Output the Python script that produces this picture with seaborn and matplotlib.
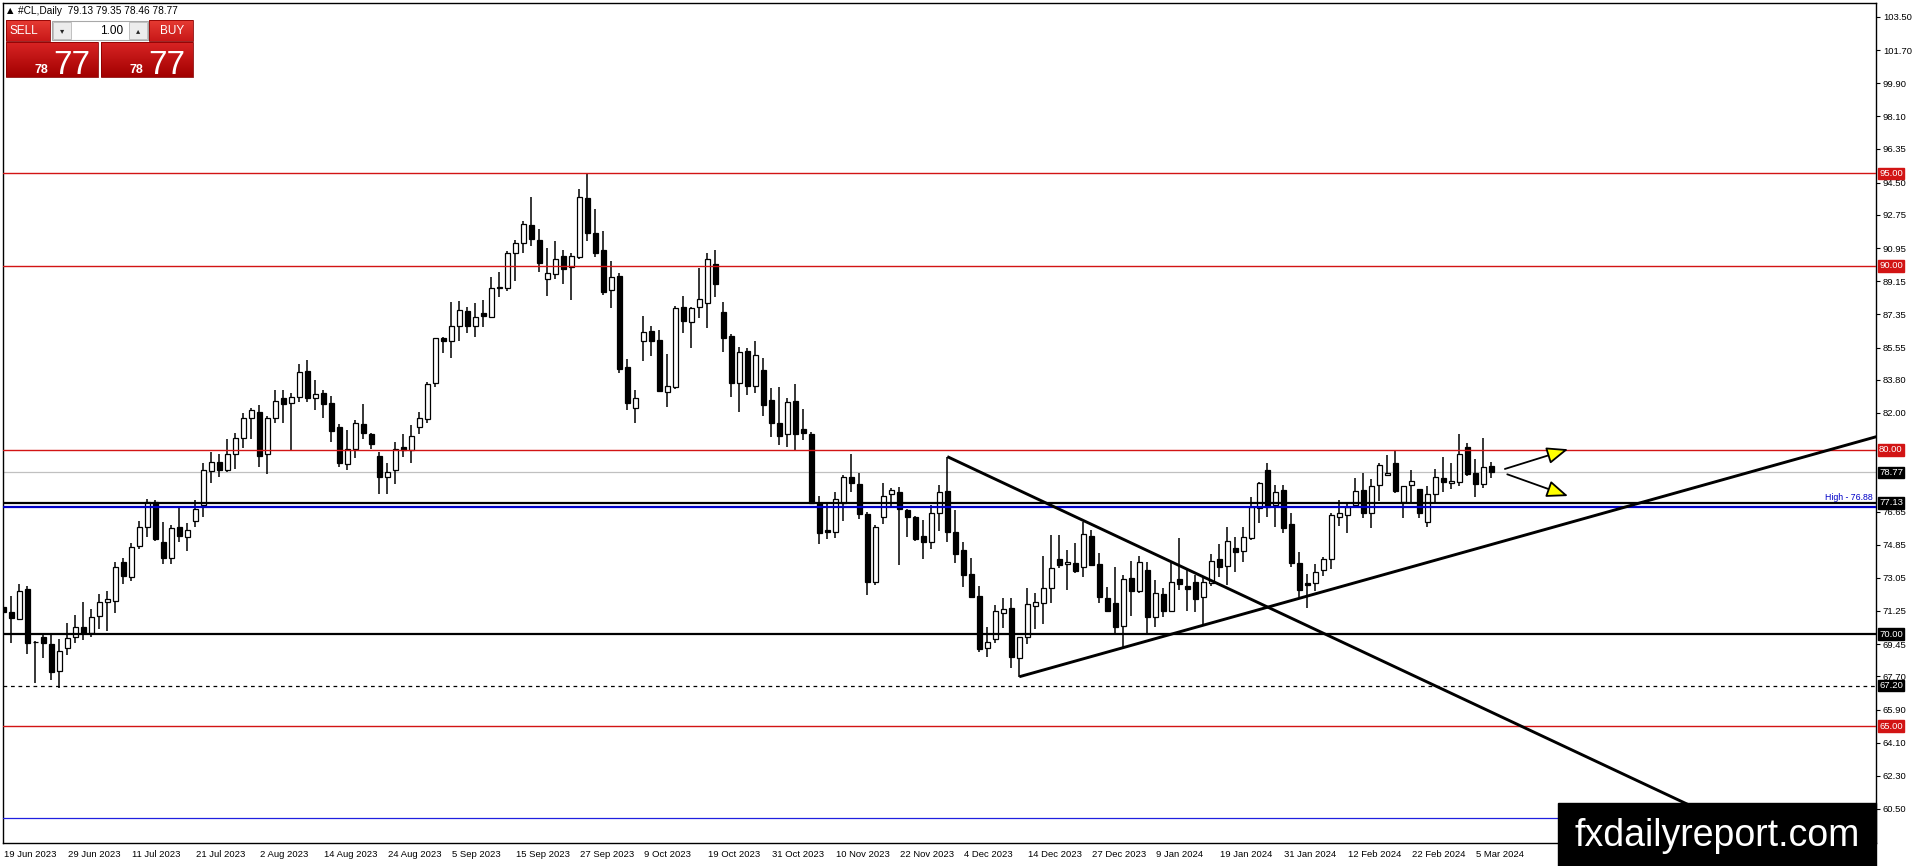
import numpy as np
import pandas as pd
import matplotlib
matplotlib.use("Agg")
import matplotlib.pyplot as plt
import matplotlib.transforms as mtransforms
from matplotlib.patches import Rectangle
from matplotlib.colors import LinearSegmentedColormap
import seaborn as sns

# #CL daily candles, 19 Jun 2023 .. 7 Mar 2024
opens = [
    71.48, 71.18, 70.81, 72.44, 69.55, 69.82, 69.44, 67.99, 69.22, 69.82,
    70.40, 70.07, 71.00, 71.76, 71.81, 73.89, 73.11, 74.80, 75.83, 77.15,
    74.98, 74.11, 75.79, 75.28, 76.15, 77.00, 78.85, 79.32, 78.90, 79.75,
    80.62, 81.71, 82.03, 79.75, 81.71, 82.79, 82.52, 82.85, 84.28, 82.79,
    83.10, 82.56, 81.22, 79.23, 80.03, 81.38, 80.84, 79.66, 78.54, 78.90,
    80.13, 79.99, 81.26, 81.65, 83.61, 86.05, 85.92, 86.72, 87.54, 86.74,
    87.44, 87.23, 88.78, 88.77, 90.67, 91.21, 92.20, 91.39, 89.25, 89.53,
    90.54, 89.91, 90.45, 93.65, 91.75, 90.85, 88.68, 89.44, 84.48, 82.25,
    85.92, 86.45, 85.96, 83.16, 83.43, 87.77, 86.96, 87.77, 87.99, 90.07,
    87.46, 86.18, 83.61, 85.36, 83.48, 84.33, 82.70, 81.44, 80.86, 82.65,
    81.11, 80.86, 77.09, 75.65, 75.56, 77.13, 78.51, 78.14, 76.51, 72.84,
    76.37, 77.60, 77.69, 76.73, 76.33, 75.32, 75.01, 76.55, 77.76, 75.52,
    74.56, 73.24, 72.06, 69.22, 69.71, 71.12, 71.43, 68.68, 69.86, 71.54,
    71.66, 72.48, 74.05, 73.78, 73.84, 73.62, 75.32, 73.80, 71.94, 71.66,
    70.45, 73.02, 72.35, 73.47, 70.90, 72.15, 71.27, 72.99, 72.61, 72.80,
    71.99, 72.75, 74.05, 73.69, 74.65, 74.51, 75.19, 76.82, 78.90, 77.00,
    77.82, 75.95, 73.87, 72.79, 72.75, 73.47, 74.05, 76.37, 76.46, 77.00,
    77.82, 76.55, 78.09, 78.63, 79.30, 77.18, 78.09, 77.85, 76.06, 77.60,
    78.45, 78.18, 78.27, 80.13, 78.76, 78.13, 79.13]
highs = [
    72.03, 72.08, 72.71, 72.61, 69.60, 70.07, 70.07, 69.71, 70.58, 71.03,
    71.72, 71.34, 72.17, 72.35, 73.89, 74.11, 74.92, 76.13, 77.31, 77.27,
    76.10, 75.92, 76.91, 76.00, 77.27, 79.30, 79.86, 79.75, 80.59, 80.89,
    82.02, 82.25, 82.43, 81.84, 83.25, 83.25, 83.10, 84.64, 84.88, 83.79,
    83.25, 82.92, 81.40, 81.07, 81.62, 82.49, 80.93, 79.90, 79.27, 80.44,
    80.84, 81.35, 82.03, 83.70, 86.09, 86.14, 88.04, 88.08, 87.77, 87.95,
    88.13, 89.36, 89.63, 90.79, 91.39, 92.42, 93.74, 91.99, 90.94, 91.33,
    90.85, 90.70, 94.14, 95.01, 93.05, 91.88, 90.25, 89.58, 84.91, 83.25,
    87.26, 86.72, 86.50, 85.20, 87.81, 88.35, 87.77, 89.85, 90.67, 90.85,
    88.01, 86.27, 85.56, 85.54, 85.91, 84.97, 83.34, 83.39, 82.79, 83.57,
    82.20, 80.95, 77.49, 77.09, 77.73, 78.63, 79.77, 78.72, 76.64, 75.92,
    78.22, 77.91, 77.96, 76.77, 76.41, 76.19, 77.00, 78.09, 79.63, 76.73,
    75.01, 74.11, 72.61, 70.40, 71.57, 71.94, 71.94, 69.86, 72.48, 72.24,
    74.23, 75.37, 75.37, 74.56, 74.96, 76.10, 75.65, 74.38, 72.57, 73.62,
    73.20, 73.98, 74.23, 73.93, 72.93, 72.48, 73.84, 75.19, 73.47, 73.20,
    73.11, 74.33, 74.89, 75.79, 75.25, 75.79, 77.46, 78.27, 79.27, 78.09,
    78.09, 76.55, 74.47, 73.26, 73.80, 74.20, 76.55, 77.27, 77.09, 78.45,
    78.76, 78.40, 79.30, 79.72, 79.95, 78.03, 78.90, 77.85, 78.03, 78.94,
    79.63, 79.27, 80.86, 80.39, 79.48, 80.62, 79.35]
lows = [
    70.58, 69.49, 70.76, 68.90, 67.32, 68.68, 67.50, 67.05, 68.86, 69.49,
    69.67, 69.86, 70.27, 70.18, 71.16, 72.70, 72.90, 74.61, 75.29, 75.05,
    73.80, 73.80, 75.01, 74.52, 75.83, 76.36, 78.22, 78.51, 78.81, 78.94,
    80.08, 80.57, 79.05, 78.67, 81.47, 81.47, 79.93, 82.58, 82.58, 82.16,
    81.71, 80.41, 79.05, 78.90, 79.54, 80.59, 80.04, 77.58, 77.58, 78.13,
    79.59, 79.30, 80.84, 81.44, 83.43, 85.24, 84.99, 85.91, 86.36, 86.14,
    86.68, 87.17, 88.28, 88.62, 89.18, 90.70, 91.06, 89.67, 88.37, 89.27,
    89.00, 88.13, 90.36, 91.35, 90.45, 88.40, 87.72, 84.15, 82.16, 81.47,
    84.84, 85.11, 83.12, 82.31, 83.28, 86.32, 85.54, 87.17, 86.59, 88.31,
    85.33, 82.88, 82.07, 82.97, 83.07, 81.81, 80.71, 80.26, 80.17, 79.93,
    80.53, 77.09, 74.89, 75.16, 75.19, 76.13, 77.73, 76.24, 72.12, 72.66,
    75.97, 76.95, 73.75, 75.25, 75.05, 74.05, 74.60, 75.61, 75.01, 73.87,
    72.57, 71.97, 69.04, 68.77, 69.49, 70.31, 68.17, 67.68, 69.46, 70.25,
    70.54, 71.70, 73.57, 72.39, 73.33, 73.08, 73.69, 71.66, 71.21, 70.04,
    69.31, 70.98, 72.21, 70.04, 70.40, 70.94, 71.27, 72.39, 71.27, 71.21,
    70.49, 72.62, 73.11, 72.66, 73.38, 73.93, 75.10, 76.04, 76.37, 75.83,
    75.50, 73.66, 71.99, 71.39, 72.35, 73.17, 73.51, 75.86, 75.50, 76.82,
    76.32, 75.74, 77.22, 78.63, 77.64, 76.28, 77.18, 76.32, 75.79, 77.18,
    77.73, 77.87, 78.03, 78.58, 77.46, 77.94, 78.46]
closes = [
    71.21, 70.89, 72.33, 69.49, 69.58, 69.49, 67.96, 69.10, 69.76, 70.40,
    70.04, 70.94, 71.76, 71.88, 73.62, 73.17, 74.74, 75.79, 77.18, 75.16,
    74.11, 75.74, 75.34, 75.64, 76.79, 78.90, 79.32, 78.90, 79.75, 80.62,
    81.71, 82.16, 79.68, 81.71, 82.65, 82.47, 82.85, 84.21, 82.83, 83.01,
    82.47, 81.04, 79.27, 80.03, 81.44, 80.89, 80.30, 78.51, 78.81, 80.03,
    79.99, 80.75, 81.71, 83.57, 86.05, 85.92, 86.72, 87.59, 86.74, 87.19,
    87.28, 88.77, 88.80, 90.67, 91.21, 92.24, 91.43, 90.12, 89.58, 90.34,
    89.82, 90.54, 93.71, 91.79, 90.70, 88.58, 89.40, 84.39, 82.52, 82.79,
    86.38, 85.92, 83.21, 83.48, 87.68, 87.01, 87.68, 88.17, 90.36, 89.00,
    86.05, 83.64, 85.29, 83.48, 85.15, 82.43, 81.44, 80.77, 82.58, 80.86,
    80.89, 77.13, 75.50, 75.52, 77.31, 78.51, 78.18, 76.51, 72.84, 75.79,
    77.49, 77.82, 76.77, 76.37, 75.14, 74.98, 76.55, 77.69, 75.56, 74.33,
    73.20, 72.03, 69.19, 69.58, 71.25, 71.34, 68.73, 69.82, 71.61, 71.72,
    72.48, 73.57, 73.75, 73.93, 73.42, 75.43, 73.75, 71.99, 71.27, 70.40,
    72.99, 72.35, 73.89, 70.90, 72.21, 71.27, 72.80, 72.71, 72.46, 71.88,
    72.80, 73.98, 73.62, 75.07, 74.47, 75.28, 76.88, 78.18, 76.91, 77.73,
    75.77, 73.87, 72.39, 72.66, 73.38, 74.05, 76.46, 76.59, 76.91, 77.76,
    76.55, 78.03, 79.17, 78.72, 77.76, 78.03, 78.32, 76.55, 77.60, 78.50,
    78.27, 78.31, 79.77, 78.69, 78.13, 79.08, 78.77]

date_labels = ["19 Jun 2023", "29 Jun 2023", "11 Jul 2023", "21 Jul 2023",
               "2 Aug 2023", "14 Aug 2023", "24 Aug 2023", "5 Sep 2023",
               "15 Sep 2023", "27 Sep 2023", "9 Oct 2023", "19 Oct 2023",
               "31 Oct 2023", "10 Nov 2023", "22 Nov 2023", "4 Dec 2023",
               "14 Dec 2023", "27 Dec 2023", "9 Jan 2024", "19 Jan 2024",
               "31 Jan 2024", "12 Feb 2024", "22 Feb 2024", "5 Mar 2024"]
date_step = 8

# scale labels (80.20 and 78.40 sit under the level boxes, so they are left out)
price_ticks = [103.50, 101.70, 99.90, 98.10, 96.35, 94.50, 92.75, 90.95,
               89.15, 87.35, 85.55, 83.80, 82.00,
               76.65, 74.85, 73.05, 71.25, 69.45, 67.70, 65.90, 64.10, 62.30, 60.50]

red_levels = [95.00, 90.00, 80.00, 65.00]
black_levels = [77.13, 70.00]
dotted_level = 67.20
blue_high = 76.88
blue_low = 60.00
bid_price = 78.77

# trend lines (two anchor points each, extended to the right)
down_x = [118, 130.6]
down_y = [79.63, 77.06]
up_x = [127, 174.6]
up_y = [67.68, 73.47]

# the two yellow arrows after the last bar
arrow_x0 = [187.7, 188.0]
arrow_y0 = [78.96, 78.67]
arrow_x1 = [195.6, 195.6]
arrow_y1 = [80.03, 77.49]

df = pd.DataFrame({"open": opens, "high": highs, "low": lows, "close": closes})
df["x"] = np.arange(len(df))
df["bull"] = df["close"] >= df["open"]
df["bottom"] = df[["open", "close"]].min(axis=1)
df["body"] = (df["close"] - df["open"]).abs().clip(lower=0.04)

sns.set_theme(style="white")
plt.rcParams["font.family"] = ["Liberation Sans", "DejaVu Sans"]

W, H = 1916, 866
fig = plt.figure(figsize=(W / 100, H / 100), dpi=100)
fig.patch.set_facecolor("white")
ax = fig.add_axes([3 / W, (H - 843) / H, 1873 / W, 840 / H])
ax.set_facecolor("white")

# candles
ax.vlines(df["x"], df["low"], df["high"], color="black", lw=1.1, zorder=2)
ax.bar(df["x"], df["body"], bottom=df["bottom"], width=0.62,
       color=np.where(df["bull"], "white", "black"), edgecolor="black",
       linewidth=0.9, zorder=3)

# horizontal levels
RED = "#d21414"
for lvl in red_levels:
    ax.axhline(lvl, color=RED, lw=1.0, zorder=4)
for lvl in black_levels:
    ax.axhline(lvl, color="black", lw=1.6, zorder=4)
ax.axhline(blue_high, color="#0000c8", lw=1.6, zorder=4)
ax.axhline(blue_low, color="#2020e0", lw=0.9, zorder=4)
ax.axhline(dotted_level, color="black", lw=0.9, ls=(0, (3, 3)), zorder=4)
ax.axhline(bid_price, color="#c0c0c0", lw=0.9, zorder=1)

# trend lines
xmin, xmax = -0.0375, 234.09
for lx, ly in [(down_x, down_y), (up_x, up_y)]:
    slope = (ly[1] - ly[0]) / (lx[1] - lx[0])
    x_end = xmax + 5
    ax.plot([lx[0], x_end], [ly[0], ly[0] + slope * (x_end - lx[0])],
            color="black", lw=2.1, solid_capstyle="butt", zorder=5)

for xs, ys, xe, ye in zip(arrow_x0, arrow_y0, arrow_x1, arrow_y1):
    ax.annotate("", xy=(xe, ye), xytext=(xs, ys),
                arrowprops=dict(arrowstyle="-|>,head_length=1.0,head_width=0.4",
                                fc="#ffff00", ec="black", lw=1.3,
                                mutation_scale=13, shrinkA=0, shrinkB=0),
                zorder=6)

ax.set_xlim(xmin, xmax)
ax.set_ylim(58.654, 104.256)

# axes / ticks like the terminal
for sp in ax.spines.values():
    sp.set_color("black")
    sp.set_linewidth(1.0)
ax.yaxis.tick_right()
ax.set_yticks(price_ticks)
ax.set_yticklabels([f"{v:.2f}" for v in price_ticks])
ax.tick_params(axis="y", length=3, width=0.8, pad=2, labelsize=6.8,
               colors="black", direction="out")
ax.set_xticks(df["x"][::date_step])
ax.set_xticklabels(date_labels)
ax.tick_params(axis="x", length=3, width=0.8, pad=2, labelsize=6.8,
               colors="black", direction="out")
shift = mtransforms.ScaledTranslation(1 / 100, 0, fig.dpi_scale_trans)
for lab in ax.get_xticklabels():
    lab.set_horizontalalignment("left")
    lab.set_transform(lab.get_transform() + shift)
ax.grid(False)

# price boxes on the right scale
trans = mtransforms.blended_transform_factory(ax.transAxes, ax.transData)
boxes = [(v, RED) for v in red_levels] + [(v, "black") for v in black_levels]
boxes += [(dotted_level, "black"), (bid_price, "black")]
for val, col in boxes:
    ax.text(1.0 + 3 / 1873, val, f"{val:.2f}", transform=trans, ha="left",
            va="center", color="white", fontsize=6.8, clip_on=False, zorder=10,
            bbox=dict(boxstyle="square,pad=0.15", fc=col, ec=col))
ax.text(0.9985, black_levels[0] + 0.05, f"High - {blue_high:.2f}", transform=trans,
        ha="right", va="bottom", color="#0000c8", fontsize=6.3, zorder=6)

# overlay in pixel coordinates: trade panel and watermark
ov = fig.add_axes([0, 0, 1, 1])
ov.set_zorder(5)
ov.axis("off")


def grad_box(x0, y0, x1, y1, c_top, c_bot, edge="#8a0000"):
    cmap = LinearSegmentedColormap.from_list("g", [c_top, c_bot])
    ov.imshow(np.linspace(0, 1, 64).reshape(-1, 1), extent=(x0, x1, y1, y0),
              cmap=cmap, aspect="auto", zorder=1, interpolation="bilinear")
    ov.add_patch(Rectangle((x0, y0), x1 - x0, y1 - y0, fill=False, ec=edge,
                           lw=0.6, zorder=2))


ov.text(7, 11, "\u25b2", fontsize=6, color="black", va="center", ha="left",
        family=["DejaVu Sans"])
ov.text(18, 11, "#CL,Daily  79.13 79.35 78.46 78.77", fontsize=7.3,
        color="black", va="center", ha="left")

grad_box(6, 20, 50, 41, "#e63b33", "#c81818")
ov.text(24, 31, "SELL", color="white", fontsize=8.5, ha="center", va="center")
grad_box(149, 20, 193, 41, "#e63b33", "#c81818")
ov.text(172, 31, "BUY", color="white", fontsize=8.5, ha="center", va="center")
ov.add_patch(Rectangle((52, 21), 96, 19, fc="white", ec="#a8a8a8", lw=0.8, zorder=2))
ov.add_patch(Rectangle((53, 22), 18, 17, fc="#ececec", ec="#b8b8b8", lw=0.6, zorder=3))
ov.add_patch(Rectangle((129, 22), 18, 17, fc="#ececec", ec="#b8b8b8", lw=0.6, zorder=3))
ov.text(62, 30.5, "\u25be", fontsize=6, ha="center", va="center", family=["DejaVu Sans"], zorder=4)
ov.text(138, 30.5, "\u25b4", fontsize=6, ha="center", va="center", family=["DejaVu Sans"], zorder=4)
ov.text(123, 30.5, "1.00", fontsize=8.5, ha="right", va="center", color="black", zorder=4)

for bx in [6, 101]:
    grad_box(bx, 42, bx + 92, 77, "#d82424", "#a20000")
    ov.text(bx + 42, 73, "78", color="white", fontsize=9, fontweight="bold",
            ha="right", va="baseline")
    ov.text(bx + 47, 73.5, "77", color="white", fontsize=24, ha="left", va="baseline")

ov.add_patch(Rectangle((1558, 803), 318, 63, fc="black", ec="black", zorder=5))
ov.text(1717, 836, "fxdailyreport.com", color="white", fontsize=27,
        ha="center", va="center", zorder=6)

ov.set_xlim(0, W)
ov.set_ylim(H, 0)

fig.savefig("out.png", dpi=100, facecolor="white")
